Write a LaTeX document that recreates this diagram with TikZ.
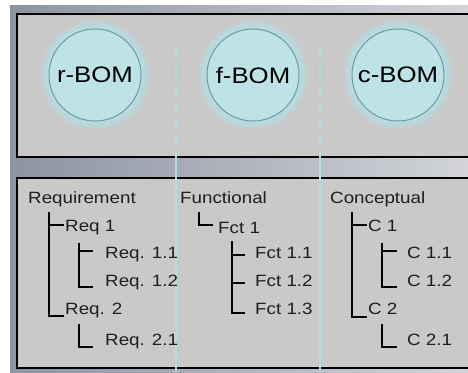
\documentclass[tikz,border=0pt]{standalone}
\usepackage{fontspec}
\setmainfont{Liberation Sans}[FakeStretch=1.15]

\definecolor{bgleft}{HTML}{8C93A3}
\definecolor{bgright}{HTML}{D2D4D8}
\definecolor{boxgray}{HTML}{C9C9C9}
\definecolor{bomfill}{HTML}{BDE3E6}
\definecolor{bomline}{HTML}{6E9C9E}
\definecolor{glowcyan}{HTML}{B4E4EA}
\definecolor{sepblue}{HTML}{B6DCE2}
\definecolor{itemtext}{HTML}{1E1E1E}

\tikzset{
  bom/.style={circle,minimum size=92bp,inner sep=0pt,fill=bomfill,draw=bomline,line width=1bp,font=\fontsize{22.5}{26}\selectfont},
  item/.style={anchor=base west,inner sep=0pt,text=itemtext,font=\fontsize{16.4}{19}\selectfont},
  tree/.style={line width=1.7bp,black},
  sepline/.style={sepblue,line width=1.5bp}
}

\begin{document}
\begin{tikzpicture}[x=1bp,y=-1bp]
  \useasboundingbox (0,0) rectangle (468,372);
  \fill[white] (0,0) rectangle (468,372);
  \shade[left color=bgleft,right color=bgright] (10,5) rectangle (468,372);

  % the two panels
  \draw[fill=boxgray,line width=2bp] (17,14) rectangle (472,157);
  \draw[fill=boxgray,line width=2bp] (17,178) rectangle (472,368);

  % column separators
  \foreach \x in {176,320} {
    \draw[sepline,dash pattern=on 9bp off 6bp] (\x,45) -- (\x,157);
    \draw[sepline] (\x,157) -- (\x,372);
  }

  % BOM circles
  \foreach \x/\nm/\txt in {95/rbom/r-BOM,253/fbom/f-BOM,398/cbom/c-BOM} {
    \foreach \k in {9,...,1}
      \fill[glowcyan,opacity=0.16] (\x,75) circle ({46+\k*1bp});
    \node[bom] (\nm) at (\x,75) {\txt};
  }

  % requirement tree
  \node[item] (req) at (28,203) {Requirement};
  \node[item] (req1) at (65,231) {Req 1};
  \node[item] (req11) at (105,258) {Req. 1.1};
  \node[item] (req12) at (105,286) {Req. 1.2};
  \node[item] (req2) at (65,314) {Req. 2};
  \node[item] (req21) at (105,345) {Req. 2.1};
  \draw[tree] ([shift={(21,9)}]req.base west) |- ([shift={(-1,2)}]req2.base west);
  \draw[tree] ([shift={(-16,-6)}]req1.base west) -- ([shift={(-1,-6)}]req1.base west);
  \draw[tree] ([shift={(14,12)}]req1.base west) |- ([shift={(-12,1)}]req12.base west);
  \draw[tree] ([shift={(-26,-7)}]req11.base west) -- ([shift={(-12,-7)}]req11.base west);
  \draw[tree] ([shift={(14,10)}]req2.base west) |- ([shift={(-12,2)}]req21.base west);

  % functional tree
  \node[item] (func) at (180,203) {Functional};
  \node[item] (fct1) at (218,233) {Fct 1};
  \node[item] (fct11) at (255,258) {Fct 1.1};
  \node[item] (fct12) at (255,286) {Fct 1.2};
  \node[item] (fct13) at (255,314) {Fct 1.3};
  \draw[tree] ([shift={(19,9)}]func.base west) |- ([shift={(-5,-8)}]fct1.base west);
  \draw[tree] ([shift={(14,8)}]fct1.base west) |- ([shift={(-10,-1)}]fct13.base west);
  \draw[tree] ([shift={(-23,-3)}]fct11.base west) -- ([shift={(-10,-3)}]fct11.base west);
  \draw[tree] ([shift={(-23,-3)}]fct12.base west) -- ([shift={(-10,-3)}]fct12.base west);

  % conceptual tree
  \node[item] (concept) at (330,203) {Conceptual};
  \node[item] (c1) at (368,231) {C 1};
  \node[item] (c11) at (407,258) {C 1.1};
  \node[item] (c12) at (407,286) {C 1.2};
  \node[item] (c2) at (368,314) {C 2};
  \node[item] (c21) at (407,345) {C 2.1};
  \draw[tree] ([shift={(22,9)}]concept.base west) |- ([shift={(-1,3)}]c2.base west);
  \draw[tree] ([shift={(-16,-6)}]c1.base west) -- ([shift={(-1,-6)}]c1.base west);
  \draw[tree] ([shift={(14,12)}]c1.base west) |- ([shift={(-10,1)}]c12.base west);
  \draw[tree] ([shift={(-25,-7)}]c11.base west) -- ([shift={(-10,-7)}]c11.base west);
  \draw[tree] ([shift={(14,10)}]c2.base west) |- ([shift={(-10,2)}]c21.base west);
\end{tikzpicture}
\end{document}
